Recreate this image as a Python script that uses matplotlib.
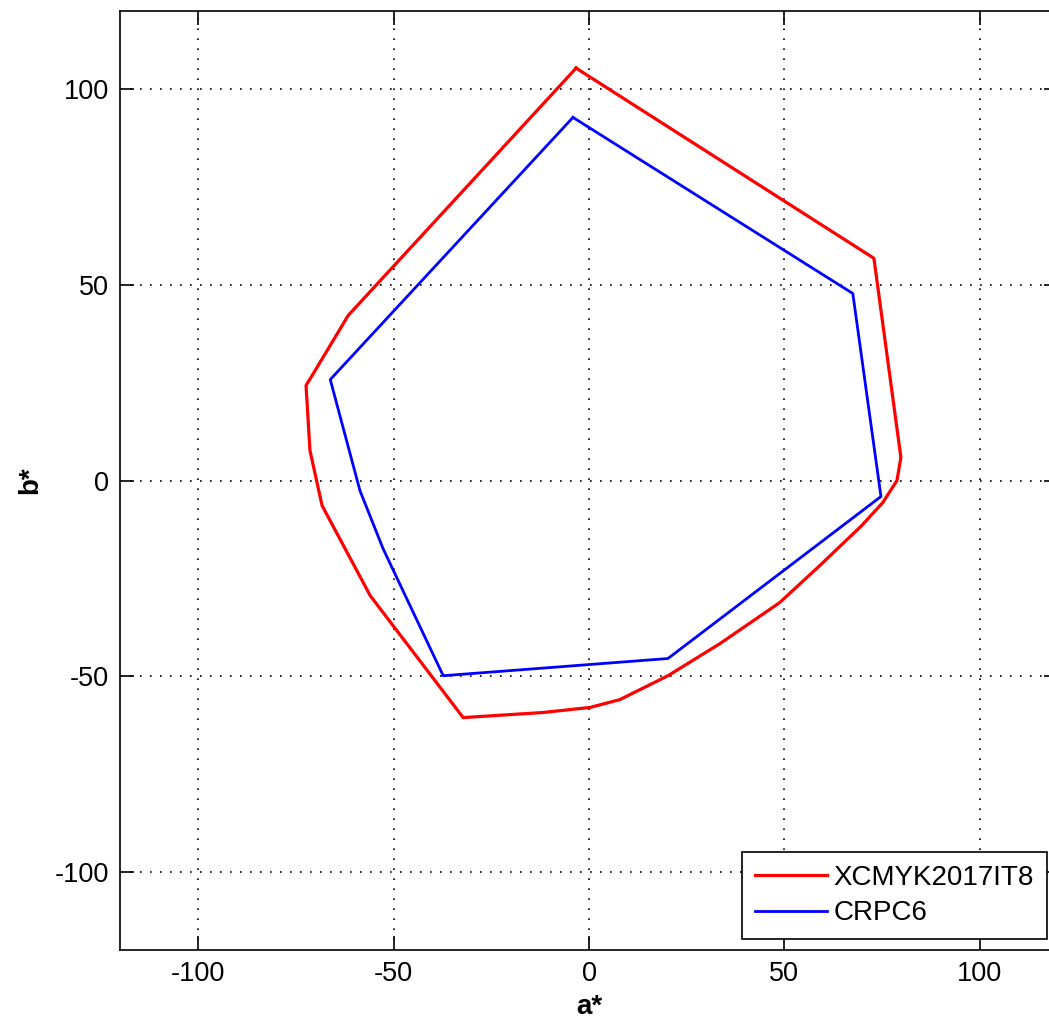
import matplotlib
matplotlib.use("Agg")
import matplotlib.pyplot as plt

plt.rcParams['font.family'] = ['Liberation Sans', 'DejaVu Sans']
plt.rcParams['axes.unicode_minus'] = False

# XCMYK2017IT8 gamut boundary (a*, b*)
xcmyk_a = [-3.3, 72.9, 79.8, 78.8, 75.2, 69.8, 59.1, 48.8, 33.5, 20.2, 7.9,
           0.3, -11.8, -32.2, -56.0, -68.3, -71.4, -72.4, -70.8, -61.6, -3.3]
xcmyk_b = [105.4, 56.8, 5.9, 0.0, -5.6, -11.5, -21.7, -31.2, -41.7, -49.9, -56.0,
           -58.0, -59.3, -60.6, -29.4, -6.4, 7.7, 24.3, 26.9, 42.2, 105.4]

# CRPC6 gamut boundary (a*, b*)
crpc_a = [-4.1, 67.5, 74.7, 20.2, -37.3, -52.7, -58.6, -66.2, -4.1]
crpc_b = [92.8, 47.8, -4.1, -45.5, -49.9, -17.4, -2.6, 25.8, 92.8]

labels = ['XCMYK2017IT8', 'CRPC6']
ticks = [-100, -50, 0, 50, 100]

W, H = 1049, 1021
fig = plt.figure(figsize=(W / 100, H / 100), dpi=100)
ax = fig.add_axes([120 / W, (H - 950) / H, 938 / W, 939 / H])

ax.plot(xcmyk_a, xcmyk_b, color='#ff0000', lw=2.3, label=labels[0])
ax.plot(crpc_a, crpc_b, color='#0000ff', lw=2.0, label=labels[1])

ax.set_xlim(-120, 120)
ax.set_ylim(-120, 120)
ax.set_xticks(ticks)
ax.set_yticks(ticks)
ax.grid(True, color='black', linestyle=(0, (1, 5)), linewidth=1.2)
ax.tick_params(direction='in', length=10, width=1.2, top=True, right=True,
               labelsize=19.5, pad=8)
for s in ax.spines.values():
    s.set_linewidth(1.2)

ax.set_xlabel('a*', fontsize=20, fontweight='bold', labelpad=5)
ax.set_ylabel('b*', fontsize=20, fontweight='bold', labelpad=8)

leg = ax.legend(loc='lower right', bbox_to_anchor=(0.988, 0.012), borderaxespad=0,
                fontsize=20, fancybox=False, edgecolor='black', framealpha=1,
                handlelength=2.6, handletextpad=0.25, labelspacing=0.35,
                borderpad=0.45)
leg.get_frame().set_linewidth(1.2)

fig.savefig('out.png', dpi=100)
